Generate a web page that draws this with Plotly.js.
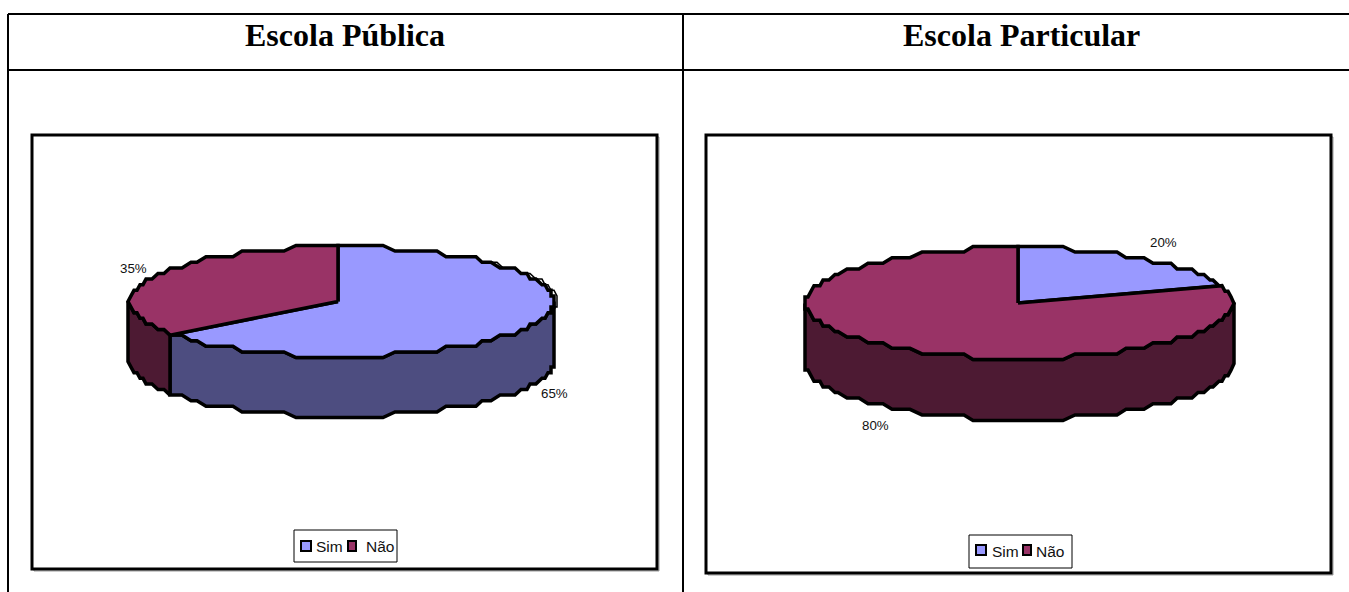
<!DOCTYPE html>
<html><head><meta charset="utf-8">
<script src="https://cdn.plot.ly/plotly-3.0.1.min.js"></script>
<style>html,body{margin:0;padding:0;background:#fff;overflow:hidden}#c{width:1349px;height:592px}</style>
</head><body><div id="c"></div>
<script>
var panelTitles = ["Escola Pública", "Escola Particular"];
var categories = ["Sim", "Não"];
var publicValues = [65, 35];
var privateValues = [20, 80];

var TOP = ["#9999FF", "#993366"];
var WALL = ["#4D4D80", "#4D1A33"];
var BLACK = "#000";

var panels = [
  {values: publicValues, title: panelTitles[0], titleX: 345,
   cx: 338, cy: 301.5, rl: 209, rr: 217, ry: 56, depth: 60, rim: 220,
   frame: [32, 135, 657, 569],
   legend: [294, 530, 397, 562], swatchY: [540, 552], sw: [[300, 312], [347, 357]], tx: [316, 366], ty: 546,
   labels: [[554, 393], [133, 268]]},
  {values: privateValues, title: panelTitles[1], titleX: 1021,
   cx: 1018, cy: 303, rl: 213, rr: 215, ry: 56.5, depth: 61, rim: 0,
   frame: [706, 135, 1331, 573],
   legend: [969, 535, 1072, 568], swatchY: [544, 556], sw: [[975, 987], [1022, 1032]], tx: [992, 1036], ty: 551,
   labels: [[1163, 242], [875, 425]]}
];

var STEP_X = 3, STEP_Y = 5.6, BIAS_Y = 1.5, SAMPLE_DEG = 3;
function rimPoint(p, deg, dy, rOverride) {
  var a = deg * Math.PI / 180, s = Math.sin(a), c = Math.cos(a);
  var r = rOverride || (s >= 0 ? p.rr : p.rl);
  var x = p.cx + Math.round(r * s / STEP_X) * STEP_X;
  // coarse, jagged edge like the reference: distance from the nearest top/bottom extreme is snapped
  var d = p.ry * (1 - Math.abs(c));
  var k = Math.round((d + BIAS_Y) / STEP_Y) * STEP_Y;
  k = Math.min(k, p.ry);
  var y = p.cy + (c >= 0 ? -1 : 1) * (p.ry - k);
  return [x, y + (dy || 0)];
}
function arc(p, a0, a1, dy, rOverride) {
  var pts = [], n = Math.max(1, Math.ceil(Math.abs(a1 - a0) / SAMPLE_DEG)), last = null;
  for (var i = 0; i <= n; i++) {
    var e = rimPoint(p, a0 + (a1 - a0) * i / n, dy, rOverride);
    if (!last || last[0] !== e[0] || last[1] !== e[1]) pts.push(e);
    last = e;
  }
  return pts;
}
function poly(pts, fill, width, name) {
  return {
    type: "scatter", mode: "lines", name: name,
    x: pts.map(function (d) { return d[0]; }),
    y: pts.map(function (d) { return d[1]; }),
    fill: fill ? "toself" : "none", fillcolor: fill || undefined,
    line: {color: BLACK, width: width, shape: "linear"},
    hoverinfo: "skip", showlegend: false
  };
}

var traces = [], shapes = [], annotations = [];

function line(x0, y0, x1, y1, w, col) {
  shapes.push({type: "line", xref: "x", yref: "y", x0: x0, y0: y0, x1: x1, y1: y1, layer: "below",
    line: {color: col || BLACK, width: w}});
}
// table
line(8, 14, 1349, 14, 2); line(8, 70, 1349, 70, 2);
line(8, 14, 8, 592, 2); line(683, 14, 683, 592, 2);

panels.forEach(function (p) {
  var f = p.frame, L = p.legend;
  shapes.push({type: "rect", x0: f[0] + 2, y0: f[1] + 2, x1: f[2] + 2, y1: f[3] + 2, line: {color: "#999", width: 1}, layer: "below"});
  shapes.push({type: "rect", x0: f[0], y0: f[1], x1: f[2], y1: f[3], fillcolor: "#fff", line: {color: BLACK, width: 3}, layer: "below"});
  shapes.push({type: "rect", x0: L[0], y0: L[1], x1: L[2], y1: L[3], fillcolor: "#fff", line: {color: BLACK, width: 1}, layer: "below"});

  annotations.push({x: p.titleX, y: 35, xref: "x", yref: "y", text: "<b>" + p.title + "</b>", showarrow: false,
    xanchor: "center", yanchor: "middle", font: {family: "Liberation Serif", size: 32, color: "#000"}});

  var total = p.values.reduce(function (a, b) { return a + b; }, 0), start = 0;
  var walls = [], tops = [];
  p.values.forEach(function (v, i) {
    var a0 = start / total * 360, a1 = (start + v) / total * 360;
    start += v;
    // visible front wall: the arc between 90 and 270 degrees from the top
    var w0 = Math.max(a0, 90), w1 = Math.min(a1, 270);
    if (w1 > w0) {
      var up = arc(p, w0, w1, 0), down = arc(p, w1, w0, p.depth);
      walls.push(poly(up.concat(down).concat([up[0]]), WALL[i], 3.5, categories[i] + " lateral"));
    }
    var apex = [p.cx, p.cy];
    tops.push(poly([apex].concat(arc(p, a0, a1, 0)).concat([apex]), TOP[i], 3.5, categories[i]));

    var lab = p.labels[i];
    annotations.push({x: lab[0], y: lab[1], xref: "x", yref: "y", text: v + "%", showarrow: false,
      xanchor: "center", yanchor: "middle", font: {family: "Liberation Sans", size: 13.3, color: "#111"}});

    shapes.push({type: "rect", x0: p.sw[i][0] + 1, x1: p.sw[i][1] - 1, y0: p.swatchY[0] + 1, y1: p.swatchY[1] - 1,
      fillcolor: TOP[i], line: {color: BLACK, width: 2}, layer: "above"});
    annotations.push({x: p.tx[i], y: p.ty, xref: "x", yref: "y", text: categories[i], showarrow: false,
      xanchor: "left", yanchor: "middle", xshift: -2, font: {family: "Liberation Sans", size: 15.5, color: "#111"}});
  });
  traces = traces.concat(walls);
  if (p.rim) traces.push(poly(arc(p, 40, 130, 0, p.rim), null, 1.5, "contorno"));
  traces = traces.concat(tops);
});

Plotly.newPlot("c", traces, {
  width: 1349, height: 592, margin: {l: 0, r: 0, t: 0, b: 0},
  paper_bgcolor: "#fff", plot_bgcolor: "rgba(0,0,0,0)", showlegend: false,
  xaxis: {range: [0, 1349], visible: false, fixedrange: true},
  yaxis: {range: [592, 0], visible: false, fixedrange: true},
  shapes: shapes, annotations: annotations
}, {displayModeBar: false, staticPlot: true});
</script></body></html>
